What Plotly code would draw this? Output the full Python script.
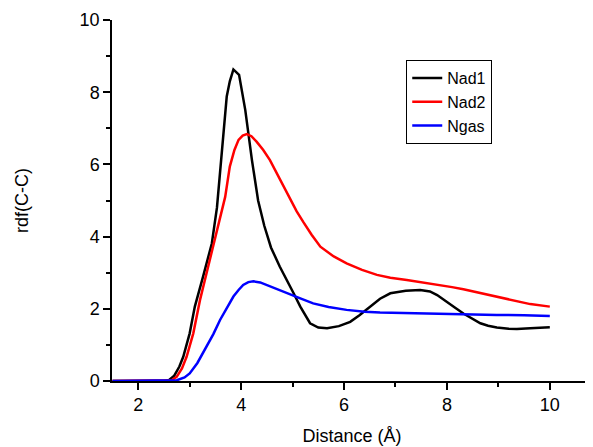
import plotly.graph_objects as go

nad1_x = [1.5, 2.0, 2.5, 2.6, 2.7, 2.8, 2.875, 3.0, 3.1, 3.26, 3.43, 3.53, 3.62, 3.72, 3.78, 3.85, 3.96, 4.08, 4.21, 4.33, 4.45, 4.58, 4.75, 4.89, 5.02, 5.15, 5.34, 5.5, 5.67, 5.9, 6.12, 6.3, 6.51, 6.7, 6.9, 7.2, 7.48, 7.67, 7.81, 8.0, 8.16, 8.32, 8.5, 8.65, 8.8, 8.97, 9.2, 9.36, 9.62, 9.85, 10.0]
nad1_y = [0, 0, 0, 0.03, 0.15, 0.4, 0.67, 1.32, 2.06, 2.89, 3.81, 4.8, 6.3, 7.88, 8.3, 8.63, 8.48, 7.51, 6.12, 5.0, 4.3, 3.7, 3.17, 2.8, 2.43, 2.06, 1.6, 1.48, 1.46, 1.52, 1.64, 1.82, 2.06, 2.28, 2.43, 2.5, 2.52, 2.48, 2.38, 2.2, 2.03, 1.87, 1.72, 1.6, 1.53, 1.48, 1.45, 1.44, 1.46, 1.48, 1.49]

nad2_x = [1.5, 2.5, 2.65, 2.75, 2.85, 2.94, 3.07, 3.2, 3.36, 3.53, 3.6, 3.69, 3.78, 3.87, 3.95, 4.03, 4.11, 4.2, 4.3, 4.43, 4.56, 4.66, 4.76, 4.85, 4.95, 5.08, 5.21, 5.37, 5.54, 5.8, 6.05, 6.35, 6.64, 6.9, 7.22, 7.5, 7.87, 8.1, 8.32, 8.65, 8.97, 9.3, 9.62, 10.0]
nad2_y = [0, 0, 0.02, 0.12, 0.35, 0.67, 1.32, 2.24, 3.17, 4.18, 4.55, 5.1, 5.94, 6.4, 6.68, 6.8, 6.84, 6.78, 6.63, 6.4, 6.12, 5.85, 5.6, 5.35, 5.06, 4.7, 4.4, 4.05, 3.72, 3.45, 3.26, 3.08, 2.94, 2.86, 2.8, 2.74, 2.66, 2.6, 2.54, 2.44, 2.34, 2.23, 2.13, 2.06]

ngas_x = [1.5, 2.6, 2.75, 2.9, 3.0, 3.15, 3.33, 3.46, 3.59, 3.72, 3.85, 3.95, 4.04, 4.14, 4.24, 4.37, 4.5, 4.66, 4.82, 5.0, 5.15, 5.4, 5.7, 6.05, 6.4, 6.7, 7.2, 7.81, 8.4, 8.97, 9.5, 10.0]
ngas_y = [0, 0, 0.02, 0.1, 0.21, 0.5, 0.95, 1.3, 1.69, 2.02, 2.34, 2.52, 2.66, 2.74, 2.76, 2.73, 2.66, 2.57, 2.47, 2.38, 2.29, 2.15, 2.05, 1.97, 1.92, 1.9, 1.88, 1.87, 1.85, 1.83, 1.82, 1.80]

x_ticks = [2, 4, 6, 8, 10]
y_ticks = [0, 2, 4, 6, 8, 10]

fig = go.Figure()
for name, xs, ys, col in [("Nad1", nad1_x, nad1_y, "#000000"),
                          ("Nad2", nad2_x, nad2_y, "#ff0000"),
                          ("Ngas", ngas_x, ngas_y, "#0000ff")]:
    fig.add_trace(go.Scatter(x=xs, y=ys, mode="lines", name=name,
                             line=dict(color=col, width=2.5)))

axis_font = dict(family="Liberation Sans, Arial, sans-serif", size=18, color="#000000")
fig.update_layout(
    width=585, height=439,
    margin=dict(l=104, r=1, t=12, b=66, autoexpand=False),
    paper_bgcolor="white", plot_bgcolor="white",
    font=dict(family="Liberation Sans, Arial, sans-serif", color="#000000"),
    showlegend=True,
    legend=dict(x=0.613, y=0.889, xanchor="left", yanchor="top",
                bordercolor="#000000", borderwidth=1, bgcolor="white",
                font=dict(size=16, color="#000000"), tracegroupgap=0),
    xaxis=dict(range=[1.49, 10.82], tickvals=x_ticks, ticks="outside", ticklen=7,
               tickwidth=1.5, tickcolor="#000000", showline=True, linecolor="#000000",
               linewidth=1.5, showgrid=False, zeroline=False, tickfont=axis_font,
               automargin=False,
               title=dict(text="Distance (Å)", font=axis_font, standoff=15),
               minor=dict(dtick=1, tick0=0, ticks="outside", ticklen=4,
                          tickwidth=1.5, tickcolor="#000000")),
    yaxis=dict(range=[0, 10], tickvals=y_ticks, ticks="outside", ticklen=7,
               tickwidth=1.5, tickcolor="#000000", showline=True, linecolor="#000000",
               linewidth=1.5, showgrid=False, zeroline=False, tickfont=axis_font,
               automargin=False,
               title=dict(text="rdf(C-C)", font=axis_font, standoff=46),
               minor=dict(dtick=1, tick0=0, ticks="outside", ticklen=4,
                          tickwidth=1.5, tickcolor="#000000")),
)
fig.write_html("out.html")
